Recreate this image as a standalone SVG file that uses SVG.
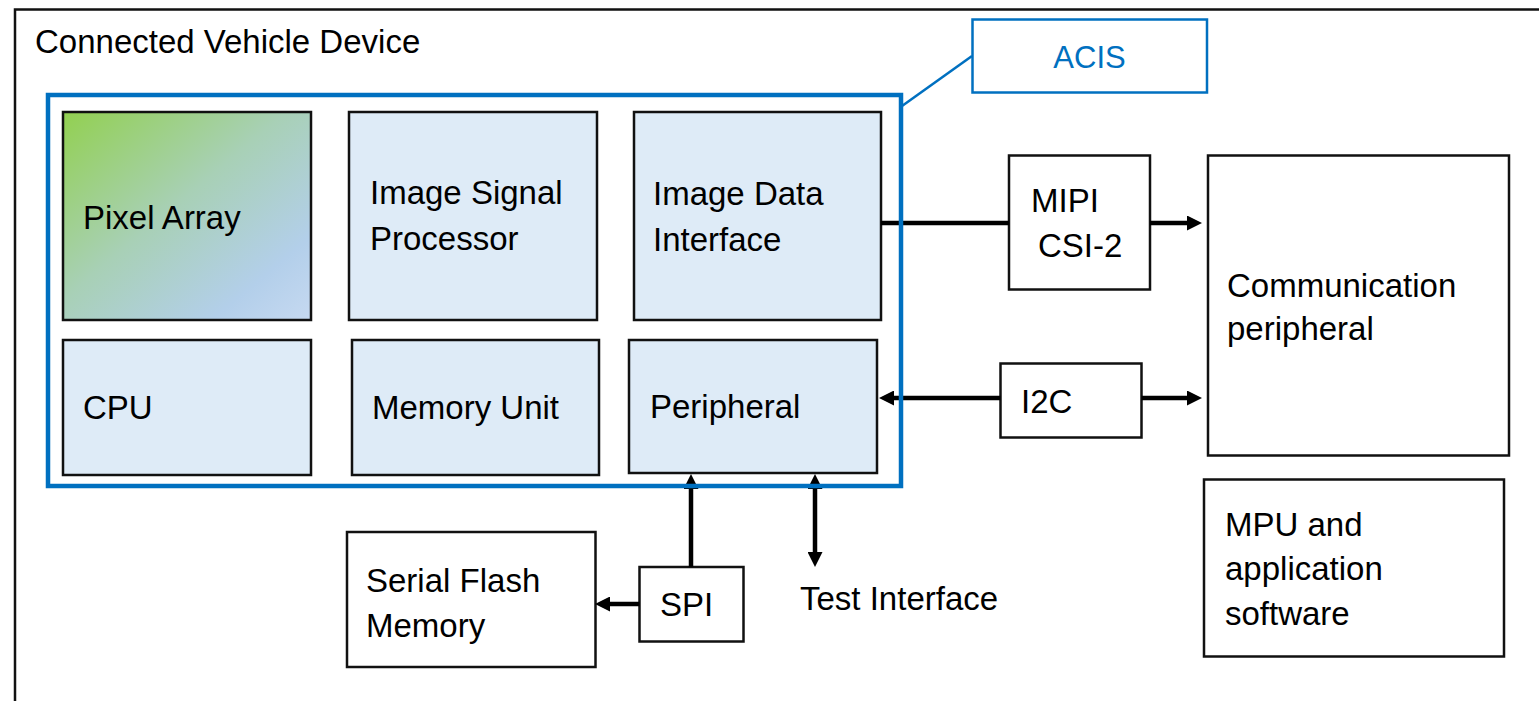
<svg xmlns="http://www.w3.org/2000/svg" width="1539" height="701" viewBox="0 0 1539 701">
  <style>
    .lbl { font-family: "Liberation Sans", Arial, sans-serif; font-size: 33px; fill: #000; }
    .blue-lbl { font-family: "Liberation Sans", Arial, sans-serif; font-size: 31px; fill: #0070C0; }
    .blk { fill: #DEEBF7; stroke: #111; stroke-width: 2.5; }
    .box { fill: #FFFFFF; stroke: #111; stroke-width: 2.5; }
    .conn { fill: none; stroke: #000; stroke-width: 4.5; }
    .acis { fill: none; stroke: #0070C0; stroke-width: 4.5; }
    .acis-tag { fill: #FFFFFF; stroke: #0070C0; stroke-width: 2.5; }
    .leader { fill: none; stroke: #0070C0; stroke-width: 2.5; }
  </style>
  <defs>
    <linearGradient id="pixelFill" x1="0" y1="0" x2="1" y2="1">
      <stop offset="0" stop-color="#92D050"/>
      <stop offset="0.45" stop-color="#A8D0B6"/>
      <stop offset="0.8" stop-color="#B3CFEA"/>
      <stop offset="1" stop-color="#C6D9F1"/>
    </linearGradient>
    <marker id="arrow" markerUnits="userSpaceOnUse" markerWidth="15" markerHeight="15" refX="7" refY="7.5" orient="auto-start-reverse">
      <path d="M0,0 L15,7.5 L0,15 Z" fill="#000"/>
    </marker>
  </defs>

  <rect width="1539" height="701" fill="#FFFFFF"/>

  <!-- device enclosure: only its top and left sides fall inside the page -->
  <g id="device">
    <path d="M15,720 V9.5 H1560" fill="none" stroke="#111" stroke-width="2.5"/>
    <text class="lbl" x="35" y="53">Connected Vehicle Device</text>
  </g>

  <!-- blocks inside the image sensor -->
  <g id="pixel-array">
    <rect x="63" y="112" width="248" height="208" fill="url(#pixelFill)" stroke="#111" stroke-width="2.5"/>
    <text class="lbl" x="83" y="229">Pixel Array</text>
  </g>
  <g id="isp">
    <rect class="blk" x="349" y="112" width="248" height="208"/>
    <text class="lbl" x="370" y="204">Image Signal</text>
    <text class="lbl" x="370" y="250">Processor</text>
  </g>
  <g id="image-data-interface">
    <rect class="blk" x="634" y="112" width="247" height="208"/>
    <text class="lbl" x="653" y="205">Image Data</text>
    <text class="lbl" x="653" y="251">Interface</text>
  </g>
  <g id="cpu">
    <rect class="blk" x="63" y="340" width="248" height="135"/>
    <text class="lbl" x="83" y="419">CPU</text>
  </g>
  <g id="memory-unit">
    <rect class="blk" x="352" y="340" width="247" height="135"/>
    <text class="lbl" x="372" y="419">Memory Unit</text>
  </g>
  <g id="peripheral">
    <rect class="blk" x="629" y="340" width="248" height="133"/>
    <text class="lbl" x="650" y="418">Peripheral</text>
  </g>

  <!-- external blocks -->
  <g id="mipi">
    <rect class="box" x="1009" y="155.5" width="141" height="134"/>
    <text class="lbl" x="1031" y="212">MIPI</text>
    <text class="lbl" x="1038" y="257">CSI-2</text>
  </g>
  <g id="i2c">
    <rect class="box" x="1000.5" y="363.5" width="141" height="74"/>
    <text class="lbl" x="1021" y="413">I2C</text>
  </g>
  <g id="communication-peripheral">
    <rect class="box" x="1208" y="155.5" width="301" height="300"/>
    <text class="lbl" x="1227" y="297">Communication</text>
    <text class="lbl" x="1227" y="340">peripheral</text>
  </g>
  <g id="mpu">
    <rect class="box" x="1204" y="479.5" width="300" height="177"/>
    <text class="lbl" x="1225" y="536">MPU and</text>
    <text class="lbl" x="1225" y="580">application</text>
    <text class="lbl" x="1225" y="625">software</text>
  </g>
  <g id="serial-flash">
    <rect class="box" x="347" y="532" width="248.5" height="135"/>
    <text class="lbl" x="366" y="592">Serial Flash</text>
    <text class="lbl" x="366" y="637">Memory</text>
  </g>
  <g id="spi">
    <rect class="box" x="639.5" y="567" width="104" height="74.5"/>
    <text class="lbl" x="660" y="616">SPI</text>
  </g>
  <g id="test-interface">
    <text class="lbl" x="800" y="610">Test Interface</text>
  </g>

  <!-- connectors -->
  <g id="connectors">
    <path class="conn" d="M881,223 H1009"/>
    <path class="conn" d="M1150,223 H1194" marker-end="url(#arrow)"/>
    <path class="conn" d="M1000.5,398 H887" marker-end="url(#arrow)"/>
    <path class="conn" d="M1141.5,398 H1194" marker-end="url(#arrow)"/>
    <path class="conn" d="M691,567 V482" marker-end="url(#arrow)"/>
    <path class="conn" d="M815,482 V559" marker-start="url(#arrow)" marker-end="url(#arrow)"/>
    <path class="conn" d="M639.5,604 H603" marker-end="url(#arrow)"/>
  </g>

  <!-- image sensor outline and its tag -->
  <g id="acis">
    <rect class="acis" x="48" y="95" width="853" height="391"/>
    <path class="leader" d="M902,106 L972,56"/>
    <rect class="acis-tag" x="972.5" y="19.5" width="234.5" height="73"/>
    <text class="blue-lbl" x="1089.5" y="68" text-anchor="middle">ACIS</text>
  </g>
</svg>
